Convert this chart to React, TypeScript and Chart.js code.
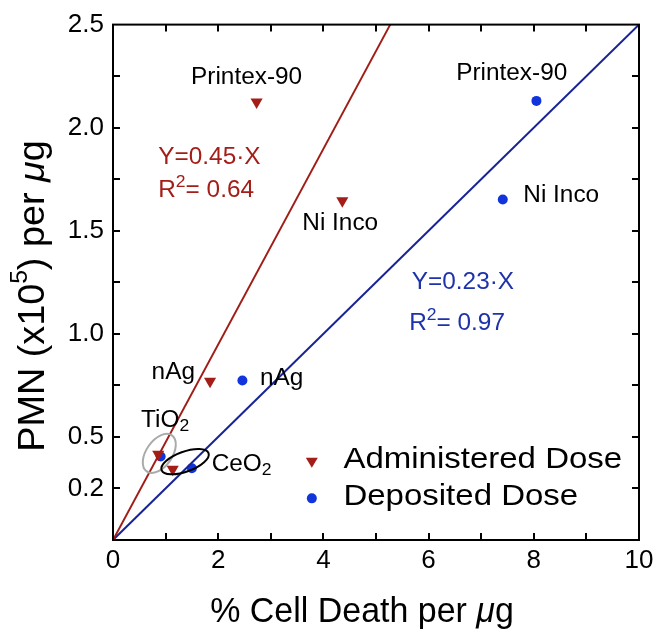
import React, { useEffect, useRef } from 'react';
import { Chart, registerables } from 'chart.js';

Chart.register(...registerables);

// ---- data ----
const materials = ['Printex-90', 'Ni Inco', 'nAg', 'TiO2', 'CeO2'];
const adminX = [2.73, 4.36, 1.845, 0.86, 1.135];
const adminY = [2.125, 1.646, 0.77, 0.416, 0.343];
const depX = [8.05, 7.41, 2.46, 0.906, 1.5];
const depY = [2.13, 1.652, 0.774, 0.405, 0.348];
const adminFitX = [0, 5.27];
const adminFitY = [0, 2.5];
const depFitX = [0, 10];
const depFitY = [0, 2.5];
const xTickLabels = ['0', '2', '4', '6', '8', '10'];
const yTickValues = [0.25, 0.5, 1.0, 1.5, 2.0, 2.5];
const yTickLabels = ['0.2', '0.5', '1.0', '1.5', '2.0', '2.5'];
const legendLabels = ['Administered Dose', 'Deposited Dose'];
const adminEquation = ['Y=0.45·X', '0.64'];
const depEquation = ['Y=0.23·X', '0.97'];

const FONT = "'Liberation Sans', Arial, Helvetica, sans-serif";
const RED = 'rgb(163,30,24)';
const RED_LINE = 'rgb(160,28,22)';
const BLUE_DOT = 'rgb(18,52,220)';
const BLUE_LINE = 'rgb(24,36,150)';
const BLUE_TEXT = 'rgb(30,50,170)';

type Run = { t: string; size: number; dy?: number; italic?: boolean };

function runsWidth(ctx: CanvasRenderingContext2D, runs: Run[], sx: number) {
  let w = 0;
  for (const r of runs) {
    ctx.font = `${r.italic ? 'italic ' : ''}${r.size}px ${FONT}`;
    w += ctx.measureText(r.t).width * sx;
  }
  return w;
}

function drawRuns(
  ctx: CanvasRenderingContext2D,
  runs: Run[],
  x: number,
  y: number,
  color: string,
  align: 'left' | 'center' = 'left',
  sx = 1
) {
  const w = runsWidth(ctx, runs, sx);
  let cx = align === 'center' ? x - w / 2 : x;
  ctx.save();
  ctx.fillStyle = color;
  ctx.textBaseline = 'middle';
  ctx.textAlign = 'left';
  for (const r of runs) {
    ctx.font = `${r.italic ? 'italic ' : ''}${r.size}px ${FONT}`;
    ctx.save();
    ctx.translate(cx, y + (r.dy || 0));
    ctx.scale(sx, 1);
    ctx.fillText(r.t, 0, 0);
    ctx.restore();
    cx += ctx.measureText(r.t).width * sx;
  }
  ctx.restore();
}

const subs = (name: string, size: number): Run[] => {
  if (name.endsWith('2') && (name.startsWith('TiO') || name.startsWith('CeO'))) {
    return [
      { t: name.slice(0, -1), size },
      { t: '2', size: size * 0.72, dy: size * 0.28 },
    ];
  }
  return [{ t: name, size }];
};

const framePlugin = {
  id: 'frameTicks',
  afterDatasetsDraw(chart: any) {
    const ctx: CanvasRenderingContext2D = chart.ctx;
    const { left, right, top, bottom } = chart.chartArea;
    const xs = chart.scales.x;
    const ys = chart.scales.y;
    const tl = 7;
    ctx.save();
    ctx.strokeStyle = '#000';
    ctx.lineWidth = 2;
    ctx.strokeRect(left, top, right - left, bottom - top);
    ctx.beginPath();
    for (let v = xs.min + 1; v < xs.max; v += 1) {
      const p = Math.round(xs.getPixelForValue(v));
      ctx.moveTo(p, bottom);
      ctx.lineTo(p, bottom - tl);
      ctx.moveTo(p, top);
      ctx.lineTo(p, top + tl);
    }
    for (let v = ys.min + 0.25; v < ys.max - 0.001; v += 0.25) {
      const p = Math.round(ys.getPixelForValue(v));
      ctx.moveTo(left, p);
      ctx.lineTo(left + tl, p);
      ctx.moveTo(right, p);
      ctx.lineTo(right - tl, p);
    }
    ctx.stroke();

    const X = (v: number) => xs.getPixelForValue(v);
    const Y = (v: number) => ys.getPixelForValue(v);

    // ellipses
    ctx.lineWidth = 2;
    ctx.strokeStyle = 'rgb(170,170,170)';
    ctx.beginPath();
    ctx.ellipse(X(0.88), Y(0.42), 22, 13, (-55 * Math.PI) / 180, 0, Math.PI * 2);
    ctx.stroke();
    ctx.strokeStyle = '#000';
    ctx.beginPath();
    ctx.ellipse(X(1.37), Y(0.38), 25, 10, (-20 * Math.PI) / 180, 0, Math.PI * 2);
    ctx.stroke();

    const S = 23;
    const SX = 1.06;
    // sample labels
    drawRuns(ctx, subs(materials[0], S), X(2.54), Y(2.245), '#000', 'center', SX);
    drawRuns(ctx, subs(materials[1], S), X(4.32), Y(1.536), '#000', 'center', SX);
    drawRuns(ctx, subs(materials[2], S), X(1.146), Y(0.811), '#000', 'center', SX);
    drawRuns(ctx, subs(materials[3], S), X(0.99), Y(0.581), '#000', 'center', SX);
    drawRuns(ctx, subs(materials[4], S), X(1.876), Y(0.367), '#000', 'left', SX);
    drawRuns(ctx, subs(materials[0], S), X(7.58), Y(2.264), '#000', 'center', SX);
    drawRuns(ctx, subs(materials[1], S), X(7.8), Y(1.672), '#000', 'left', SX);
    drawRuns(ctx, subs(materials[2], S), X(2.795), Y(0.785), '#000', 'left', SX);

    // equations
    drawRuns(ctx, [{ t: adminEquation[0], size: S }], X(0.86), Y(1.854), RED, 'left', SX);
    drawRuns(
      ctx,
      [
        { t: 'R', size: S },
        { t: '2', size: S * 0.72, dy: -S * 0.33 },
        { t: '= ' + adminEquation[1], size: S },
      ],
      X(0.86),
      Y(1.696),
      RED,
      'left',
      SX
    );
    drawRuns(ctx, [{ t: depEquation[0], size: S }], X(5.68), Y(1.247), BLUE_TEXT, 'left', SX);
    drawRuns(
      ctx,
      [
        { t: 'R', size: S },
        { t: '2', size: S * 0.72, dy: -S * 0.33 },
        { t: '= ' + depEquation[1], size: S },
      ],
      X(5.63),
      Y(1.051),
      BLUE_TEXT,
      'left',
      SX
    );

    // legend
    const lx = X(3.78);
    const ly1 = Y(0.379);
    const ly2 = Y(0.202);
    ctx.fillStyle = RED;
    ctx.beginPath();
    ctx.moveTo(lx - 6, ly1 - 4);
    ctx.lineTo(lx + 6, ly1 - 4);
    ctx.lineTo(lx, ly1 + 6);
    ctx.closePath();
    ctx.fill();
    ctx.fillStyle = BLUE_DOT;
    ctx.beginPath();
    ctx.arc(lx, ly2, 5, 0, Math.PI * 2);
    ctx.fill();
    drawRuns(ctx, [{ t: legendLabels[0], size: 30 }], X(4.38), ly1 - 2, '#000', 'left', 1.1);
    drawRuns(ctx, [{ t: legendLabels[1], size: 30 }], X(4.38), ly2 - 2, '#000', 'left', 1.1);

    // axis titles
    const TS = 35;
    drawRuns(
      ctx,
      [
        { t: '% Cell Death per ', size: TS },
        { t: 'μ', size: TS, italic: true },
        { t: 'g', size: TS },
      ],
      (left + right) / 2 - 14,
      612,
      '#000',
      'center',
      0.97
    );
    const YS = 36;
    ctx.save();
    ctx.translate(34, 296);
    ctx.rotate(-Math.PI / 2);
    drawRuns(
      ctx,
      [
        { t: 'PMN (x10', size: YS },
        { t: '5', size: YS * 0.65, dy: -YS * 0.36 },
        { t: ') per ', size: YS },
        { t: 'μ', size: YS, italic: true },
        { t: 'g', size: YS },
      ],
      0,
      0,
      '#000',
      'center',
      1.05
    );
    ctx.restore();
    ctx.restore();
  },
};

const toPts = (xs: number[], ys: number[]) => xs.map((x, i) => ({ x, y: ys[i] }));

export default function App() {
  const ref = useRef<HTMLCanvasElement | null>(null);
  useEffect(() => {
    document.body.style.margin = '0';
    const canvas = ref.current!;
    const chart = new Chart(canvas, {
      type: 'scatter',
      data: {
        datasets: [
          {
            label: 'Administered fit',
            data: toPts(adminFitX, adminFitY),
            showLine: true,
            borderColor: RED_LINE,
            borderWidth: 2,
            pointRadius: 0,
          },
          {
            label: 'Deposited fit',
            data: toPts(depFitX, depFitY),
            showLine: true,
            borderColor: BLUE_LINE,
            borderWidth: 2,
            pointRadius: 0,
          },
          {
            label: legendLabels[0],
            data: toPts(adminX, adminY),
            pointStyle: 'triangle',
            rotation: 180,
            pointRadius: 7,
            backgroundColor: RED,
            borderColor: RED,
            borderWidth: 0,
          },
          {
            label: legendLabels[1],
            data: toPts(depX, depY),
            pointStyle: 'circle',
            pointRadius: 5,
            backgroundColor: BLUE_DOT,
            borderColor: BLUE_DOT,
            borderWidth: 0,
          },
        ],
      },
      options: {
        responsive: false,
        animation: false,
        layout: { padding: { left: 0, right: 27, top: 24, bottom: 0 } },
        plugins: { legend: { display: false }, tooltip: { enabled: false } },
        scales: {
          x: {
            type: 'linear',
            min: 0,
            max: 10,
            grid: { display: false, drawTicks: false },
            border: { display: false },
            afterFit: (s: any) => {
              s.height = 102;
            },
            ticks: {
              stepSize: 2,
              padding: 5,
              color: '#000',
              font: { family: FONT, size: 26 },
              callback: (v: any) => {
                const i = Math.round(Number(v) / 2);
                return Math.abs(Number(v) - i * 2) < 1e-6 ? xTickLabels[i] ?? '' : '';
              },
            },
          },
          y: {
            type: 'linear',
            min: 0,
            max: 2.5,
            grid: { display: false, drawTicks: false },
            border: { display: false },
            afterFit: (s: any) => {
              s.width = 113;
            },
            ticks: {
              stepSize: 0.25,
              padding: 9,
              color: '#000',
              font: { family: FONT, size: 26 },
              callback: (v: any) => {
                const i = yTickValues.findIndex((t) => Math.abs(t - Number(v)) < 1e-6);
                return i >= 0 ? yTickLabels[i] : '';
              },
            },
          },
        },
      },
      plugins: [framePlugin],
    });
    return () => chart.destroy();
  }, []);
  return <canvas ref={ref} width={666} height={642} style={{ display: 'block' }} />;
}
